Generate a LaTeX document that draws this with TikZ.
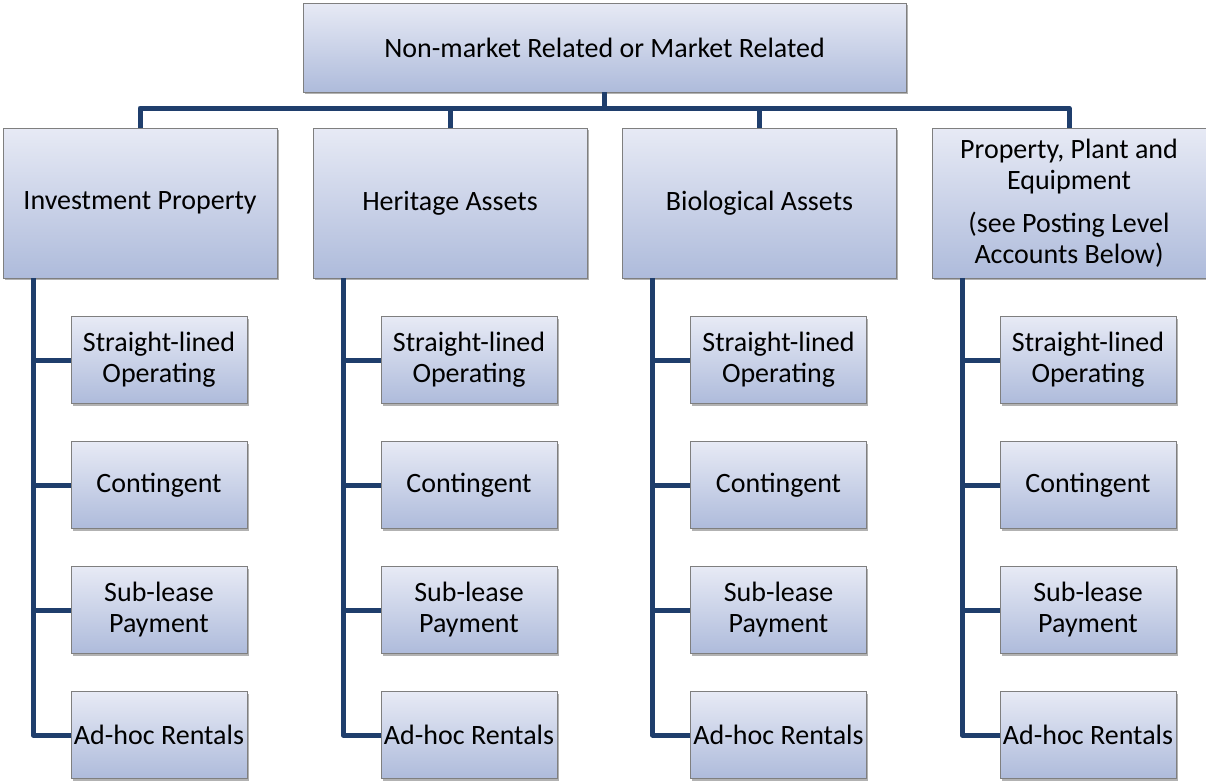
\documentclass[tikz,border=0pt]{standalone}
\usepackage{fontspec}
\setmainfont{Carlito}
\usetikzlibrary{shadows}
\definecolor{linec}{HTML}{1F3E6C}
\definecolor{topc}{HTML}{E7EAF5}
\definecolor{botc}{HTML}{AEBBDB}
\definecolor{edgec}{HTML}{7F7F7F}
\tikzset{
  box/.style={draw=edgec, line width=0.9pt, top color=topc, bottom color=botc,
    drop shadow={shadow xshift=1.5pt, shadow yshift=-2pt, opacity=0.3, fill=black},
    align=center, font=\fontsize{28}{31}\selectfont, inner sep=0pt},
  topbox/.style={box, minimum width=603pt, minimum height=89pt},
  midbox/.style={box, minimum width=274pt, minimum height=150pt},
  leafbox/.style={box, minimum width=176pt, minimum height=87pt},
  conn/.style={draw=linec, line width=5pt, line join=round},
}
\begin{document}
\begin{tikzpicture}[x=1pt,y=-1pt]
\useasboundingbox (0,0) rectangle (1206,782);
\node[topbox] (top) at (604.5,47.5) {Non-market Related or Market Related};
\coordinate (bus) at (0,108);
\foreach \n/\cx/\t in {ip/140/{Investment Property}, ha/450/{Heritage Assets}, ba/759.5/{Biological Assets}, ppe/1069/{Property, Plant and\\Equipment\\[12pt](see Posting Level\\Accounts Below)}}{
  \node[midbox] (\n) at (\cx,203) {\t};
  \coordinate (\n sp) at (\cx-107,278);
  \node[leafbox] (\n1) at (\cx+19,360) {Straight-lined\\Operating};
  \node[leafbox] (\n2) at (\cx+19,485) {Contingent};
  \node[leafbox] (\n3) at (\cx+19,610) {Sub-lease\\Payment};
  \node[leafbox] (\n4) at (\cx+19,735) {Ad-hoc Rentals};
  \draw[conn] (\n sp) -- (\n sp |- \n4.west) -- (\n4.west);
  \draw[conn] (\n sp |- \n1.west) -- (\n1.west);
  \draw[conn] (\n sp |- \n2.west) -- (\n2.west);
  \draw[conn] (\n sp |- \n3.west) -- (\n3.west);
}
\draw[conn] (ip.north) -- (ip.north |- bus) -- (ppe.north |- bus) -- (ppe.north);
\draw[conn] (top.south) -- (top.south |- bus);
\draw[conn] (ha.north |- bus) -- (ha.north);
\draw[conn] (ba.north |- bus) -- (ba.north);
\end{tikzpicture}
\end{document}
